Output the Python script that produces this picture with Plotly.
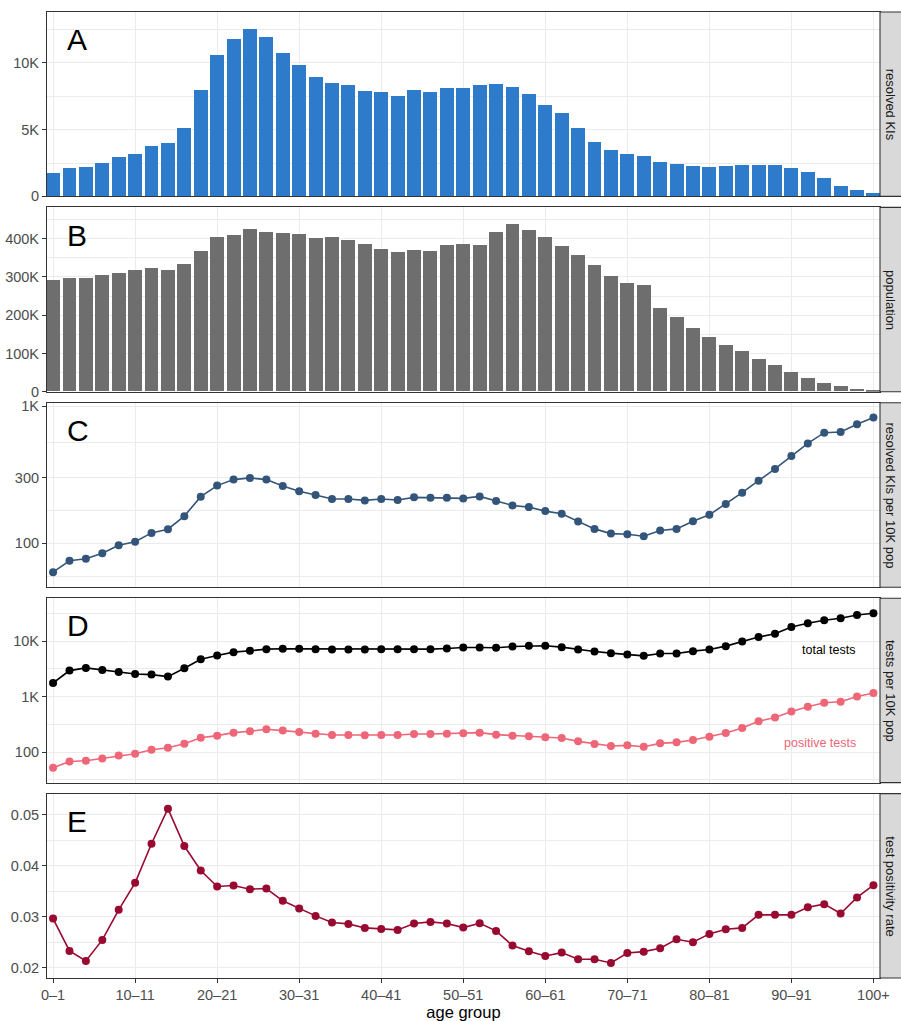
import plotly.graph_objects as go
from plotly.subplots import make_subplots

# ---------------- data ----------------
age_groups = [f"{a}\u2013{a+1}" for a in range(0, 100, 2)] + ["100+"]
tick_groups = [age_groups[i] for i in range(0, 51, 5)]

resolved_kis = [1760, 2140, 2220, 2520, 2970, 3200, 3800, 4030, 5160, 7960,
                10600, 11810, 12570, 11960, 10750, 9850, 8940, 8490, 8340, 7880,
                7810, 7500, 7960, 7810, 8110, 8110, 8340, 8410, 8180, 7650,
                6820, 6220, 5090, 4100, 3500, 3200, 3050, 2590, 2440, 2290,
                2220, 2290, 2370, 2370, 2370, 2140, 1840, 1390, 780, 480, 250]

population = [290400, 295700, 295700, 303500, 308700, 316500, 321800, 316500, 332200, 366100,
              402600, 407800, 423500, 415700, 413100, 410500, 400000, 402600, 394800, 384400,
              371300, 363500, 368700, 366100, 381800, 384400, 381800, 415700, 436500, 420900,
              402600, 379100, 355700, 329600, 300900, 282600, 277400, 217400, 193900, 165200,
              141700, 120900, 105200, 84400, 68700, 50400, 34800, 21700, 13900, 6100, 3000]

kis_per_10k = [61.6, 74.6, 77.2, 84.5, 96.7, 102.8, 119.1, 126.7, 157.8, 218.8,
               263.4, 291.4, 299.8, 291.4, 261.8, 239.3, 224.9, 210.2, 210.2, 205.5,
               210.2, 206.8, 216.3, 215.0, 215.0, 212.6, 219.8, 203.2, 188.9, 183.6,
               171.7, 164.1, 144.2, 127.4, 117.7, 116.4, 112.5, 123.9, 127.4, 144.9,
               161.4, 193.2, 233.9, 286.4, 348.9, 432.3, 535.3, 640.8, 648.4, 738.4, 826.2]

total_tests = [1758, 2939, 3289, 3020, 2778, 2557, 2488, 2290, 3243, 4721,
               5500, 6319, 6681, 7159, 7264, 7264, 7159, 7061, 7061, 7061,
               7159, 7159, 7159, 7159, 7366, 7676, 7676, 7571, 7994, 8225,
               8225, 7781, 7061, 6499, 6058, 5730, 5421, 5975, 5975, 6591,
               7061, 8112, 9862, 11817, 13590, 17942, 20910, 23700, 25770, 29580, 31730]

positive_tests = [52.0, 67.8, 69.7, 76.8, 87.0, 93.3, 110.2, 119.8, 141.6, 181.9,
                  197.8, 224.1, 237.1, 257.6, 243.6, 230.4, 214.9, 203.2, 203.2, 200.4,
                  203.2, 203.2, 211.8, 211.8, 214.9, 217.9, 224.1, 206.1, 197.8, 192.3,
                  184.6, 179.5, 156.1, 139.6, 128.5, 132.1, 125.0, 143.6, 149.6, 165.1,
                  189.7, 220.9, 272.2, 359.5, 419.2, 538.2, 654.1, 772.9, 805.8, 1006, 1156]

positivity_rate = [0.02963, 0.02327, 0.02131, 0.02544, 0.03133, 0.03664, 0.04430, 0.05118, 0.04384, 0.03906,
                   0.03592, 0.03611, 0.03539, 0.03552, 0.03310, 0.03159, 0.03015, 0.02884, 0.02858, 0.02779,
                   0.02760, 0.02740, 0.02865, 0.02897, 0.02865, 0.02786, 0.02871, 0.02721, 0.02432, 0.02321,
                   0.02229, 0.02295, 0.02164, 0.02164, 0.02092, 0.02288, 0.02314, 0.02380, 0.02557, 0.02498,
                   0.02662, 0.02753, 0.02779, 0.03035, 0.03035, 0.03035, 0.03186, 0.03245, 0.03061, 0.03376, 0.03618]

panel_letters = ["A", "B", "C", "D", "E"]
strip_labels = ["resolved KIs", "population", "resolved KIs per 10K pop",
                "tests per 10K pop", "test positivity rate"]

# ---------------- figure ----------------
W, H = 901, 1021
ML, MR, MT, MB = 47, 21, 12, 43
plot_w = W - ML - MR
plot_h = H - MT - MB
gap = 11
vs = gap / plot_h

fig = make_subplots(rows=5, cols=1, shared_xaxes=True, vertical_spacing=vs)

FONT = "Liberation Sans, Arial, Helvetica, sans-serif"
c_blue = "#2E7BCB"
c_gray = "#6E6E6E"
c_slate = "#34557A"
c_pink = "#EE6677"
c_crimson = "#990A30"

fig.add_trace(go.Bar(x=age_groups, y=resolved_kis, marker_color=c_blue,
                     marker_line_width=0, width=0.85), row=1, col=1)
fig.add_trace(go.Bar(x=age_groups, y=population, marker_color=c_gray,
                     marker_line_width=0, width=0.85), row=2, col=1)
line_kw = dict(mode="lines+markers")
fig.add_trace(go.Scatter(x=age_groups, y=kis_per_10k, line=dict(color=c_slate, width=1.6),
                         marker=dict(color=c_slate, size=8), **line_kw), row=3, col=1)
fig.add_trace(go.Scatter(x=age_groups, y=total_tests, line=dict(color="#000000", width=1.6),
                         marker=dict(color="#000000", size=8), **line_kw), row=4, col=1)
fig.add_trace(go.Scatter(x=age_groups, y=positive_tests, line=dict(color=c_pink, width=1.6),
                         marker=dict(color=c_pink, size=8), **line_kw), row=4, col=1)
fig.add_trace(go.Scatter(x=age_groups, y=positivity_rate, line=dict(color=c_crimson, width=1.6),
                         marker=dict(color=c_crimson, size=8), **line_kw), row=5, col=1)

grid = "#EBEBEB"
border = "#333333"
tickfont = dict(family=FONT, size=14.5, color="#4D4D4D")

for r in range(1, 6):
    fig.update_xaxes(row=r, col=1, type="category", categoryorder="array",
                     categoryarray=age_groups, range=[-0.37, 50.4],
                     tickmode="array", tickvals=tick_groups,
                     showgrid=True, gridcolor=grid, gridwidth=1.1,
                     showline=True, mirror=True, linecolor=border, linewidth=1.1,
                     zeroline=False, tickfont=tickfont, automargin=False,
                     ticks="outside" if r == 5 else "", ticklen=4, tickwidth=1.1,
                     tickcolor=border, showticklabels=(r == 5))

ycommon = dict(showgrid=True, gridcolor=grid, gridwidth=1.1,
               showline=True, mirror=True, linecolor=border, linewidth=1.1,
               zeroline=False, tickfont=tickfont, ticks="outside", ticklen=4,
               tickwidth=1.1, tickcolor=border, automargin=False)

fig.update_yaxes(row=1, col=1, range=[0, 13822], tickmode="array",
                 tickvals=[0, 5000, 10000], ticktext=["0", "5K", "10K"],
                 minor=dict(tickmode="array", tickvals=[2500, 7500, 12500],
                            showgrid=True, gridcolor=grid, gridwidth=0.6, ticklen=0),
                 **ycommon)
fig.update_yaxes(row=2, col=1, range=[0, 481500], tickmode="array",
                 tickvals=[0, 100000, 200000, 300000, 400000],
                 ticktext=["0", "100K", "200K", "300K", "400K"],
                 minor=dict(tickmode="array", tickvals=[50000, 150000, 250000, 350000, 450000],
                            showgrid=True, gridcolor=grid, gridwidth=0.6, ticklen=0),
                 **ycommon)
fig.update_yaxes(row=3, col=1, type="log", range=[1.680, 3.0245], tickmode="array",
                 tickvals=[100, 300, 1000], ticktext=["100", "300", "1K"],
                 minor=dict(tickmode="array", tickvals=[57.7, 173.2, 547.7],
                            showgrid=True, gridcolor=grid, gridwidth=0.6, ticklen=0),
                 **ycommon)
fig.update_yaxes(row=4, col=1, type="log", range=[1.45, 4.773], tickmode="array",
                 tickvals=[100, 1000, 10000], ticktext=["100", "1K", "10K"],
                 minor=dict(tickmode="array", tickvals=[31.62, 316.2, 3162, 31623],
                            showgrid=True, gridcolor=grid, gridwidth=0.6, ticklen=0),
                 **ycommon)
fig.update_yaxes(row=5, col=1, range=[0.01797, 0.05413], tickmode="array",
                 tickvals=[0.02, 0.03, 0.04, 0.05], ticktext=["0.02", "0.03", "0.04", "0.05"],
                 minor=dict(tickmode="array", tickvals=[0.025, 0.035, 0.045],
                            showgrid=True, gridcolor=grid, gridwidth=0.6, ticklen=0),
                 **ycommon)

fig.update_xaxes(row=5, col=1, title=dict(text="age group", standoff=2,
                                           font=dict(family=FONT, size=16.5, color="#000000")))

# strips and panel letters
strip_w = 21 / plot_w
for i in range(5):
    yname = "yaxis" if i == 0 else f"yaxis{i+1}"
    d0, d1 = fig.layout[yname].domain
    fig.add_shape(type="rect", xref="paper", yref="paper", x0=1.0, x1=1.0 + strip_w + 0.01,
                  y0=d0, y1=d1, fillcolor="#D9D9D9", line=dict(color=border, width=1.1),
                  layer="above")
    fig.add_annotation(xref="paper", yref="paper", x=1.0 + strip_w / 2, y=(d0 + d1) / 2,
                       text=strip_labels[i], textangle=90, showarrow=False,
                       font=dict(family=FONT, size=13, color="#1A1A1A"),
                       xanchor="center", yanchor="middle")
    xd = "x domain" if i == 0 else f"x{i+1} domain"
    yd = "y domain" if i == 0 else f"y{i+1} domain"
    fig.add_annotation(xref=xd, yref=yd, x=0.022, y=0.85, text=panel_letters[i],
                       showarrow=False, xanchor="left", yanchor="middle",
                       font=dict(family=FONT, size=30, color="#000000"))

fig.add_annotation(xref="x4 domain", yref="y4 domain", x=0.973, y=0.718, text="total tests",
                   showarrow=False, xanchor="right", yanchor="middle",
                   font=dict(family=FONT, size=12.5, color="#000000"))
fig.add_annotation(xref="x4 domain", yref="y4 domain", x=0.973, y=0.213, text="positive tests",
                   showarrow=False, xanchor="right", yanchor="middle",
                   font=dict(family=FONT, size=12.5, color=c_pink))

fig.update_layout(width=W, height=H, margin=dict(l=ML, r=MR, t=MT, b=MB, autoexpand=False),
                  plot_bgcolor="white", paper_bgcolor="white", showlegend=False,
                  bargap=0, font=dict(family=FONT))

fig.write_html("out.html", config={"displayModeBar": False},
               post_script="document.body.style.margin='0px';")
